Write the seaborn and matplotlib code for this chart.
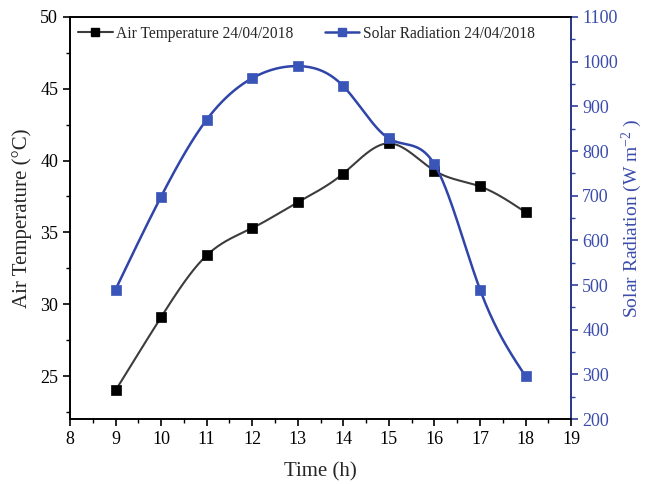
import numpy as np
import pandas as pd
import matplotlib
matplotlib.use("Agg")
import matplotlib.pyplot as plt
from matplotlib.lines import Line2D
from matplotlib.ticker import MultipleLocator
import seaborn as sns

hours = [9, 10, 11, 12, 13, 14, 15, 16, 17, 18]
air_temp = [24.0, 29.1, 33.4, 35.3, 37.1, 39.1, 41.2, 39.3, 38.2, 36.4]
solar_rad = [490, 698, 870, 963, 990, 945, 828, 770, 490, 296]

temp_label = "Air Temperature 24/04/2018"
solar_label = "Solar Radiation 24/04/2018"

sns.set_theme(style="ticks")
plt.rcParams['font.family'] = ['Liberation Serif', 'DejaVu Serif']
plt.rcParams['mathtext.fontset'] = 'custom'
plt.rcParams['mathtext.rm'] = 'Liberation Serif'
plt.rcParams['mathtext.it'] = 'Liberation Serif:italic'


def natural_spline(x, y, n=400):
    x = np.asarray(x, float)
    y = np.asarray(y, float)
    k = len(x)
    h = np.diff(x)
    A = np.zeros((k, k))
    b = np.zeros(k)
    A[0, 0] = 1
    A[-1, -1] = 1
    for i in range(1, k - 1):
        A[i, i - 1] = h[i - 1]
        A[i, i] = 2 * (h[i - 1] + h[i])
        A[i, i + 1] = h[i]
        b[i] = 6 * ((y[i + 1] - y[i]) / h[i] - (y[i] - y[i - 1]) / h[i - 1])
    M = np.linalg.solve(A, b)
    xs = np.linspace(x[0], x[-1], n)
    idx = np.clip(np.searchsorted(x, xs) - 1, 0, k - 2)
    x0, x1 = x[idx], x[idx + 1]
    hh = x1 - x0
    t0 = x1 - xs
    t1 = xs - x0
    ys = (M[idx] * t0 ** 3 / (6 * hh) + M[idx + 1] * t1 ** 3 / (6 * hh)
          + (y[idx] / hh - M[idx] * hh / 6) * t0
          + (y[idx + 1] / hh - M[idx + 1] * hh / 6) * t1)
    return xs, ys


df = pd.DataFrame({"hour": hours, "temp": air_temp, "solar": solar_rad})
tx, ty = natural_spline(hours, air_temp)
sx, sy = natural_spline(hours, solar_rad)
temp_curve = pd.DataFrame({"hour": tx, "temp": ty})
solar_curve = pd.DataFrame({"hour": sx, "solar": sy})

blue_axis = "#2f3f9e"
blue_label = "#3b4cab"
blue_line = "#2f45a8"
blue_mark = "#3a55b8"
gray_line = "#3c3c3c"

fig = plt.figure(figsize=(6.45, 4.84), dpi=100)
ax = fig.add_axes([0.1085, 0.134, 0.777, 0.831])
ax2 = ax.twinx()

sns.lineplot(data=temp_curve, x="hour", y="temp", ax=ax, color=gray_line,
             linewidth=1.5, legend=False)
sns.scatterplot(data=df, x="hour", y="temp", ax=ax, marker="s", s=42,
                color="black", edgecolor="black", linewidth=0.5, zorder=5,
                legend=False)
sns.lineplot(data=solar_curve, x="hour", y="solar", ax=ax2, color=blue_line,
             linewidth=1.8, legend=False)
sns.scatterplot(data=df, x="hour", y="solar", ax=ax2, marker="s", s=42,
                color=blue_mark, edgecolor=blue_mark, linewidth=0.5, zorder=5,
                legend=False)

ax.set_xlim(8, 19)
ax.set_ylim(22, 50)
ax2.set_ylim(200, 1100)
ax.xaxis.set_major_locator(MultipleLocator(1))
ax.xaxis.set_minor_locator(MultipleLocator(0.5))
ax.yaxis.set_major_locator(MultipleLocator(5))
ax.yaxis.set_minor_locator(MultipleLocator(2.5))
ax2.yaxis.set_major_locator(MultipleLocator(100))
ax2.yaxis.set_minor_locator(MultipleLocator(50))

ax.set_xlabel("Time (h)", fontsize=15, labelpad=10)
ax.set_ylabel("Air Temperature (°C)", fontsize=15, labelpad=6)
ax2.set_ylabel(r"Solar Radiation (W m$^{\mathrm{-2}}$ )", fontsize=14,
               color=blue_label, labelpad=1)

for a in (ax, ax2):
    for sp in a.spines.values():
        sp.set_linewidth(1.2)
        sp.set_color("black")
ax2.spines["right"].set_color(blue_axis)

ax.tick_params(axis="both", which="major", direction="out", length=5,
               width=1.2, labelsize=13, color="black", labelcolor="black")
ax.tick_params(axis="both", which="minor", direction="out", length=3,
               width=1.0, color="black")
ax2.tick_params(axis="y", which="major", direction="out", length=5, width=1.2,
                labelsize=13, color=blue_axis, labelcolor=blue_label, pad=3)
ax2.tick_params(axis="y", which="minor", direction="out", length=3, width=1.0,
                color=blue_axis)

handles = [
    Line2D([0], [0], color=gray_line, lw=1.5, marker="s", markersize=6,
           markerfacecolor="black", markeredgecolor="black"),
    Line2D([0], [0], color=blue_line, lw=1.8, marker="s", markersize=6,
           markerfacecolor=blue_mark, markeredgecolor=blue_mark),
]
ax.legend(handles, [temp_label, solar_label], ncol=2, frameon=False,
          loc="upper left", bbox_to_anchor=(-0.005, 1.005), fontsize=11.2,
          handlelength=2.2, handletextpad=0.25, columnspacing=2.0,
          borderaxespad=0.3)

fig.savefig("out.png", dpi=100)
